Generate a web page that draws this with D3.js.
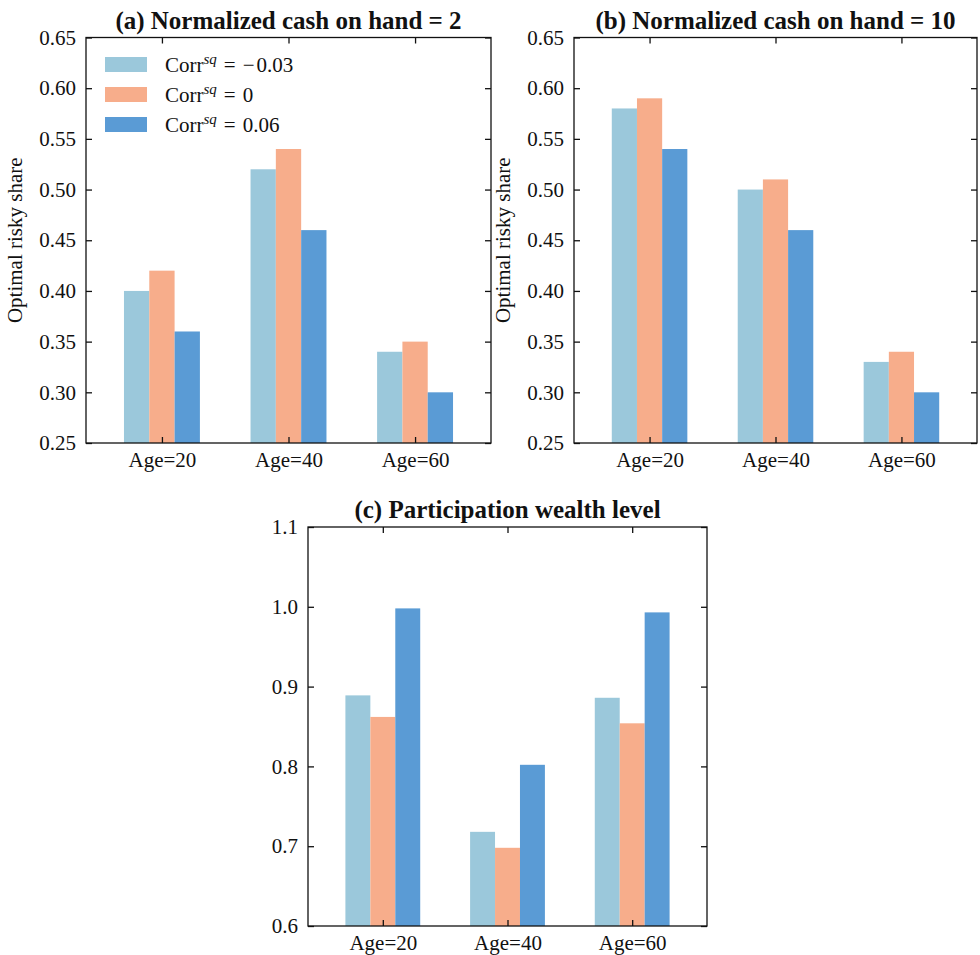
<!DOCTYPE html>
<html><head><meta charset="utf-8">
<script src="https://cdn.jsdelivr.net/npm/d3@7"></script>
<style>
body{margin:0;background:#fff;}
svg text{font-family:"Liberation Serif","Times New Roman",serif !important;fill:#111;}
</style></head>
<body>
<script>
// ---- data ----
const categories = ["Age=20", "Age=40", "Age=60"];
const seriesNames = ["−0.03", "0", "0.06"];
const colors = ["#9bc8db", "#f7ad8b", "#5a9bd5"];
// panel (a): Normalized cash on hand = 2
const panelA_m003 = [0.40, 0.52, 0.34];
const panelA_0    = [0.42, 0.54, 0.35];
const panelA_006  = [0.36, 0.46, 0.30];
// panel (b): Normalized cash on hand = 10
const panelB_m003 = [0.58, 0.50, 0.33];
const panelB_0    = [0.59, 0.51, 0.34];
const panelB_006  = [0.54, 0.46, 0.30];
// panel (c): Participation wealth level
const panelC_m003 = [0.889, 0.718, 0.886];
const panelC_0    = [0.862, 0.698, 0.854];
const panelC_006  = [0.998, 0.802, 0.993];
const ticksAB = [0.25, 0.30, 0.35, 0.40, 0.45, 0.50, 0.55, 0.60, 0.65];
const ticksC = [0.6, 0.7, 0.8, 0.9, 1.0, 1.1];

const W = 980, H = 955;
const FONT = '"Liberation Serif", "Times New Roman", serif';
const svg = d3.select("body").append("svg").attr("width", W).attr("height", H)
  .style("font-family", FONT);

function panel(opts) {
  const {x0, x1, y0, y1, series, yDomain, yTicks, fmt, title, ylabel, legend} = opts;
  const g = svg.append("g");
  const x = d3.scaleLinear().domain([-0.6, 2.6]).range([x0, x1]);
  const y = d3.scaleLinear().domain(yDomain).range([y1, y0]);
  const bw = 0.2;
  series.forEach((vals, si) => {
    g.selectAll(null).data(vals).enter().append("rect")
      .attr("x", (d, i) => x(i + (si - 1) * bw - bw / 2))
      .attr("width", x(bw) - x(0))
      .attr("y", d => y(d))
      .attr("height", d => y(yDomain[0]) - y(d))
      .attr("fill", colors[si]);
  });
  const tl = 6;
  const left = d3.axisLeft(y).tickValues(yTicks).tickFormat(d3.format(fmt)).tickSizeInner(-tl).tickSizeOuter(0).tickPadding(10);
  const right = d3.axisRight(y).tickValues(yTicks).tickFormat("").tickSizeInner(-tl).tickSizeOuter(0);
  const bottom = d3.axisBottom(x).tickValues([0, 1, 2]).tickFormat(i => categories[i]).tickSizeInner(-tl).tickSizeOuter(0).tickPadding(9);
  const top = d3.axisTop(x).tickValues([0, 1, 2]).tickFormat("").tickSizeInner(-tl).tickSizeOuter(0);
  const styl = s => {
    s.attr("font-family", null).style("font-family", FONT);
    s.select(".domain").remove();
    s.selectAll("line").attr("stroke", "#111").attr("stroke-width", 1.3);
    s.selectAll("text").attr("font-size", 21).attr("fill", "#111").style("font-family", FONT);
  };
  g.append("g").attr("transform", `translate(${x0},0)`).call(left).call(styl);
  g.append("g").attr("transform", `translate(${x1},0)`).call(right).call(styl);
  g.append("g").attr("transform", `translate(0,${y1})`).call(bottom).call(styl);
  g.append("g").attr("transform", `translate(0,${y0})`).call(top).call(styl);
  g.append("rect").attr("x", x0).attr("y", y0).attr("width", x1 - x0).attr("height", y1 - y0)
    .attr("fill", "none").attr("stroke", "#111").attr("stroke-width", 1.3);
  g.append("text").attr("x", (x0 + x1) / 2).attr("y", y0 - 9).attr("text-anchor", "middle")
    .attr("font-size", 25).attr("font-weight", "bold").style("font-family", FONT).text(title);
  if (ylabel) {
    g.append("text").attr("transform", `translate(${x0 - 64},${(y0 + y1) / 2}) rotate(-90)`)
      .attr("text-anchor", "middle").attr("font-size", 21).style("font-family", FONT).text(ylabel);
  }
  if (legend) {
    seriesNames.forEach((nm, si) => {
      const cy = y0 + 27 + si * 30;
      g.append("rect").attr("x", x0 + 19).attr("y", cy - 7.5).attr("width", 42).attr("height", 15).attr("fill", colors[si]);
      const t = g.append("text").attr("x", x0 + 79).attr("y", cy + 7).attr("font-size", 21).style("font-family", FONT);
      t.append("tspan").text("Corr");
      t.append("tspan").attr("font-style", "italic").attr("font-size", 15).attr("dy", -8).text("sq");
      t.append("tspan").attr("dy", 8).attr("dx", 7).text("=");
      if (nm.startsWith("−")) {
        t.append("tspan").attr("dx", 7).text("−");
        t.append("tspan").attr("dx", 2).text(nm.slice(1));
      } else {
        t.append("tspan").attr("dx", 7).text(nm);
      }
    });
  }
}

panel({x0: 86, x1: 491, y0: 37.5, y1: 443,
  series: [panelA_m003, panelA_0, panelA_006], yDomain: [0.25, 0.65], yTicks: ticksAB, fmt: ".2f",
  title: "(a) Normalized cash on hand = 2", ylabel: "Optimal risky share", legend: true});
panel({x0: 574, x1: 977, y0: 37.5, y1: 443,
  series: [panelB_m003, panelB_0, panelB_006], yDomain: [0.25, 0.65], yTicks: ticksAB, fmt: ".2f",
  title: "(b) Normalized cash on hand = 10", ylabel: "Optimal risky share", legend: false});
panel({x0: 308, x1: 707, y0: 527, y1: 926,
  series: [panelC_m003, panelC_0, panelC_006], yDomain: [0.6, 1.1], yTicks: ticksC, fmt: ".1f",
  title: "(c) Participation wealth level", ylabel: null, legend: false});
</script>
</body></html>
